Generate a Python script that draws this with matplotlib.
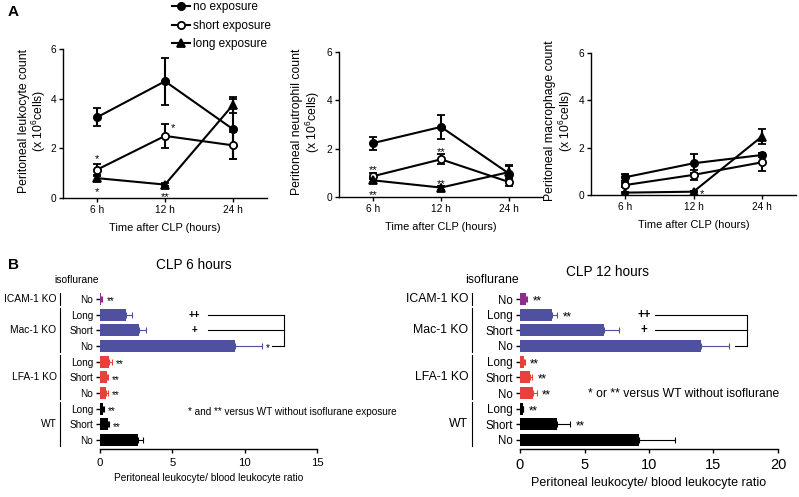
import numpy as np
import matplotlib.pyplot as plt
from matplotlib.transforms import blended_transform_factory

plt.rcParams['font.family'] = ['Liberation Sans', 'DejaVu Sans']
plt.rcParams['mathtext.fontset'] = 'custom'
plt.rcParams['mathtext.rm'] = 'Liberation Sans'
plt.rcParams['axes.linewidth'] = 1.0

# ---- panel A data (x 10^6 cells) ----
tempos = ['6 h', '12 h', '24 h']
leuco_no = [3.25, 4.7, 2.77]
leuco_no_err = [0.37, 0.95, 1.2]
leuco_short = [1.14, 2.5, 2.12]
leuco_short_err = [0.22, 0.47, 0.55]
leuco_long = [0.8, 0.54, 3.75]
leuco_long_err = [0.1, 0.05, 0.33]

neut_no = [2.23, 2.9, 0.97]
neut_no_err = [0.27, 0.5, 0.3]
neut_short = [0.86, 1.56, 0.62]
neut_short_err = [0.12, 0.2, 0.15]
neut_long = [0.69, 0.39, 1.03]
neut_long_err = [0.1, 0.08, 0.28]

macro_no = [0.75, 1.34, 1.69]
macro_no_err = [0.15, 0.4, 0.1]
macro_short = [0.42, 0.85, 1.38]
macro_short_err = [0.1, 0.2, 0.38]
macro_long = [0.1, 0.14, 2.47]
macro_long_err = [0.03, 0.03, 0.31]

# ---- panel B data (peritoneal / blood leukocyte ratio) ----
# ordem de baixo para cima
linhas = ['No', 'Short', 'Long', 'No', 'Short', 'Long', 'No', 'Short', 'Long', 'No']
grupos = ['WT', 'LFA-1 KO', 'Mac-1 KO', 'ICAM-1 KO']
grupo_linhas = [(0, 2), (3, 5), (6, 8), (9, 9)]
cores = ['#000000'] * 3 + ['#E8403A'] * 3 + ['#4F50A0'] * 3 + ['#8B2F8B']

razao6 = [2.6, 0.57, 0.22, 0.42, 0.45, 0.6, 9.3, 2.7, 1.8, 0.1]
razao6_err = [0.4, 0.05, 0.05, 0.1, 0.1, 0.2, 1.9, 0.5, 0.4, 0.05]
estrelas6 = ['', '**', '**', '**', '**', '**', '*', '', '', '**']

razao12 = [9.2, 2.85, 0.2, 1.0, 0.8, 0.3, 14.0, 6.5, 2.5, 0.47]
razao12_err = [2.8, 1.05, 0.05, 0.3, 0.15, 0.1, 2.2, 1.2, 0.4, 0.1]
estrelas12 = ['', '**', '**', '**', '**', '**', '', '', '**', '**']

W, H = 799, 497
fig = plt.figure(figsize=(W / 100, H / 100), dpi=100)


def eixo(left, right, top, bottom):
    return fig.add_axes([left / W, 1 - bottom / H, (right - left) / W, (bottom - top) / H])


def painel_linha(ax, series, ylabel, ylab_x, stars):
    x = np.arange(3)
    marcas = [('o', 'k'), ('o', 'white'), ('^', 'k')]
    for (v, e), (m, fc) in zip(series, marcas):
        ax.errorbar(x, v, yerr=e, color='k', lw=1.5, marker=m, ms=5.2 if m == 'o' else 5.8,
                    mfc=fc, mec='k', mew=1.3, capsize=3.2, capthick=1.5, elinewidth=1.5, zorder=3)
    ax.set_xlim(-0.5, 2.5)
    ax.set_ylim(0, 6)
    ax.set_yticks([0, 2, 4, 6])
    ax.set_xticks(x)
    ax.set_xticklabels(tempos)
    ax.spines['top'].set_visible(False)
    ax.spines['right'].set_visible(False)
    ax.tick_params(labelsize=7.3, length=3, width=1, pad=2)
    ax.set_xlabel('Time after CLP (hours)', fontsize=7.9, labelpad=6)
    ax.set_ylabel(ylabel, fontsize=8.8, linespacing=1.0)
    ax.yaxis.set_label_coords(ylab_x, 0.52)
    for xs, ys, s in stars:
        ax.text(xs, ys, s, fontsize=8, ha='center', va='center')


ax1 = eixo(63, 267, 49, 198)
painel_linha(ax1, [(leuco_no, leuco_no_err), (leuco_short, leuco_short_err), (leuco_long, leuco_long_err)],
             'Peritoneal leukocyte count\n(x 10$^6$cells)', -0.075,
             [(0, 1.55, '*'), (0, 0.25, '*'), (1.12, 2.8, '*'), (1, 0.05, '**')])

ax2 = eixo(339, 543, 52, 197)
painel_linha(ax2, [(neut_no, neut_no_err), (neut_short, neut_short_err), (neut_long, neut_long_err)],
             'Peritoneal neutrophil count\n(x 10$^6$cells)', -0.085,
             [(0, 1.1, '**'), (0, 0.08, '**'), (1, 1.87, '**'), (1, 0.55, '**')])

ax3 = eixo(591, 796, 53, 195)
painel_linha(ax3, [(macro_no, macro_no_err), (macro_short, macro_short_err), (macro_long, macro_long_err)],
             'Peritoneal macrophage count\n(x 10$^6$cells)', -0.08,
             [(1.12, 0.05, '*')])

handles = [c.lines[0] for c in ax1.containers]
fig.legend(handles, ['no exposure', 'short exposure', 'long exposure'], loc='upper left',
           bbox_to_anchor=(164 / W, 1 + 7 / H), frameon=False, fontsize=8.5,
           handlelength=1.5, handletextpad=0.25, labelspacing=0.55, borderpad=0.2)


def painel_barra(ax, vals, errs, stars, xmax, title, title_xy, fs, bracket, plus_x, nota, nota_xy):
    y = np.arange(len(vals))
    for yi, v, e, c in zip(y, vals, errs, cores):
        ax.barh(yi, v, height=0.75, color=c, zorder=2)
        ax.errorbar(v, yi, xerr=[[0], [e]], color=c, lw=0.8, capsize=2.5, capthick=0.8, zorder=2)
    for yi, v, e, s in zip(y, vals, errs, stars):
        if s:
            ax.text(v + e + 0.02 * xmax, yi - 0.15, s, fontsize=fs[0], va='center', ha='left')
    ax.set_xlim(0, xmax)
    ax.set_ylim(-0.6, 9.6)
    ax.set_yticks(y)
    ax.set_yticklabels(linhas, fontsize=fs[0])
    ax.set_xticks(np.arange(0, xmax + 1, 5))
    ax.tick_params(axis='x', labelsize=fs[1], length=3, width=1, pad=3)
    ax.tick_params(axis='y', length=3, width=1, pad=2)
    for s in ['top', 'right', 'left']:
        ax.spines[s].set_visible(False)
    ax.set_xlabel('Peritoneal leukocyte/ blood leukocyte ratio', fontsize=fs[2], labelpad=4)
    ax.text(title_xy[0], title_xy[1], title, transform=blended_transform_factory(ax.transAxes, ax.transData),
            fontsize=9.8, ha='center', va='center')
    tr = blended_transform_factory(ax.transAxes, ax.transData)
    ax.text(-0.11, 10.2, 'isoflurane', transform=tr, fontsize=fs[3], ha='center', va='center')
    for g, (a, b) in zip(grupos, grupo_linhas):
        ax.plot([-0.185, -0.185], [a - 0.4, b + 0.4], color='k', lw=0.8, transform=tr, clip_on=False)
        ax.text(-0.2, (a + b) / 2, g, transform=tr, fontsize=fs[3], ha='right', va='center')
    # colchete de comparacao
    x0, x1, xn = bracket
    ax.plot([x0, x1], [8, 8], color='k', lw=0.8, clip_on=False)
    ax.plot([x0, x1], [7, 7], color='k', lw=0.8, clip_on=False)
    ax.plot([xn, x1], [6, 6], color='k', lw=0.8, clip_on=False)
    ax.plot([x1, x1], [6, 8], color='k', lw=0.8, clip_on=False)
    ax.text(plus_x, 8, '++', fontsize=fs[0], ha='center', va='center', fontweight='bold')
    ax.text(plus_x, 7, '+', fontsize=fs[0], ha='center', va='center', fontweight='bold')
    ax.text(nota_xy[0], nota_xy[1], nota, fontsize=fs[4], ha='left', va='center')


axb1 = eixo(100, 317, 289.6, 449.4)
painel_barra(axb1, razao6, razao6_err, estrelas6, 15, 'CLP 6 hours', (0.433, 11.2),
             (7.2, 8.2, 7.3, 7.4, 7.2), (7.45, 12.75, 11.9), 6.5,
             '* and ** versus WT without isoflurane exposure', (6.07, 1.8))

axb2 = eixo(520, 778, 289.6, 449.4)
painel_barra(axb2, razao12, razao12_err, estrelas12, 20, 'CLP 12 hours', (0.34, 10.7),
             (8.3, 10.5, 9.0, 8.8, 8.7), (10.5, 17.6, 16.7), 9.6,
             '* or ** versus WT without isoflurane', (5.3, 2.95))

fig.text(8 / W, 1 - 12 / H, 'A', fontsize=11, fontweight='bold', va='center')
fig.text(8 / W, 1 - 265 / H, 'B', fontsize=11, fontweight='bold', va='center')

fig.savefig('out.png', dpi=100)
